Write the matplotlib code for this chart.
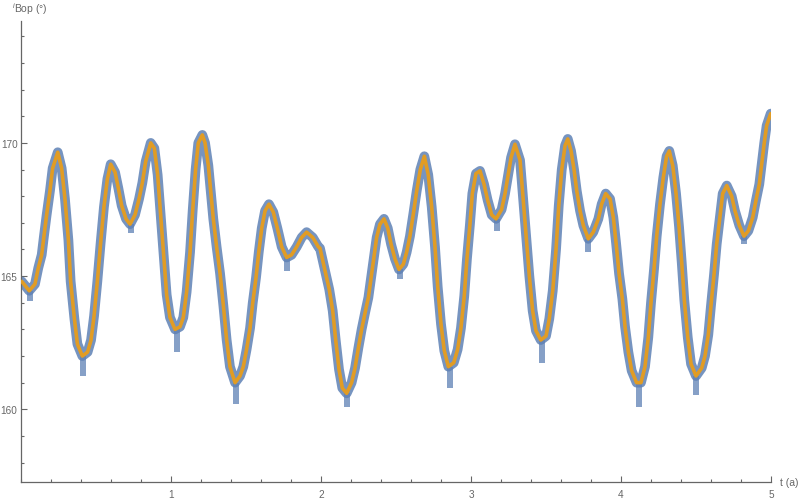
import numpy as np
import matplotlib
matplotlib.use("Agg")
import matplotlib.pyplot as plt
from matplotlib.ticker import MultipleLocator

# inclination of the orbital pole
t_years = [0.005, 0.055, 0.093, 0.115, 0.138, 0.153, 0.171, 0.193, 0.211, 0.245,
           0.271, 0.293, 0.316, 0.331, 0.356, 0.376, 0.409, 0.444, 0.467, 0.487,
           0.509, 0.531, 0.553, 0.576, 0.598, 0.627, 0.649, 0.671, 0.700, 0.727,
           0.760, 0.787, 0.809, 0.831, 0.865, 0.889, 0.911, 0.931, 0.953, 0.971,
           0.993, 1.027, 1.060, 1.082, 1.104, 1.127, 1.145, 1.164, 1.182, 1.209,
           1.227, 1.249, 1.265, 1.282, 1.304, 1.327, 1.349, 1.371, 1.393, 1.427,
           1.460, 1.482, 1.504, 1.527, 1.545, 1.567, 1.585, 1.605, 1.627, 1.653,
           1.682, 1.709, 1.738, 1.771, 1.804, 1.838, 1.871, 1.904, 1.945, 1.982,
           1.993, 2.027, 2.055, 2.078, 2.098, 2.120, 2.142, 2.171, 2.204, 2.227,
           2.249, 2.271, 2.293, 2.316, 2.333, 2.353, 2.371, 2.393, 2.420, 2.445,
           2.467, 2.493, 2.520, 2.549, 2.571, 2.593, 2.616, 2.638, 2.662, 2.689,
           2.715, 2.738, 2.760, 2.778, 2.800, 2.822, 2.849, 2.885, 2.911, 2.933,
           2.955, 2.973, 2.993, 3.009, 3.033, 3.060, 3.087, 3.111, 3.138, 3.167,
           3.204, 3.227, 3.249, 3.267, 3.293, 3.327, 3.345, 3.367, 3.389, 3.411,
           3.433, 3.465, 3.500, 3.522, 3.545, 3.567, 3.585, 3.605, 3.627, 3.645,
           3.667, 3.687, 3.705, 3.727, 3.749, 3.782, 3.815, 3.849, 3.871, 3.898,
           3.927, 3.949, 3.967, 3.987, 4.009, 4.027, 4.049, 4.071, 4.104, 4.133,
           4.160, 4.182, 4.200, 4.220, 4.238, 4.260, 4.282, 4.304, 4.322, 4.345,
           4.367, 4.387, 4.405, 4.422, 4.445, 4.467, 4.500, 4.538, 4.560, 4.582,
           4.600, 4.620, 4.638, 4.660, 4.678, 4.705, 4.738, 4.760, 4.789, 4.820,
           4.849, 4.878, 4.900, 4.922, 4.938, 4.955, 4.971, 4.998]

i_bop = [164.8, 164.45, 164.7, 165.3, 165.8, 166.5, 167.3, 168.2, 169.05, 169.65,
         169.05, 167.9, 166.35, 164.8, 163.4, 162.45, 162.0, 162.15, 162.6, 163.5,
         164.8, 166.25, 167.6, 168.65, 169.2, 168.9, 168.3, 167.65, 167.15, 166.95,
         167.3, 167.9, 168.5, 169.3, 170.0, 169.8, 168.8, 167.3, 165.7, 164.3,
         163.45, 163.0, 163.1, 163.45, 164.4, 165.9, 167.5, 169.0, 170.0, 170.3,
         170.0, 169.15, 168.2, 167.15, 166.1, 165.1, 163.9, 162.6, 161.6, 161.0,
         161.25, 161.6, 162.25, 163.05, 164.0, 164.95, 165.9, 166.8, 167.45, 167.7,
         167.4, 166.8, 166.1, 165.7, 165.8, 166.1, 166.45, 166.65, 166.45, 166.1,
         166.05, 165.2, 164.5, 163.7, 162.6, 161.5, 160.8, 160.6, 161.0, 161.55,
         162.3, 163.0, 163.6, 164.2, 164.9, 165.75, 166.45, 166.95, 167.15, 166.8,
         166.2, 165.65, 165.25, 165.45, 165.9, 166.5, 167.35, 168.2, 169.0, 169.5,
         168.8, 167.6, 166.1, 164.6, 163.2, 162.2, 161.6, 161.75, 162.25, 163.05,
         164.25, 165.65, 166.95, 168.1, 168.85, 168.95, 168.45, 167.85, 167.3, 167.15,
         167.5, 168.1, 168.85, 169.45, 169.95, 169.35, 168.1, 166.6, 165.0, 163.7,
         162.95, 162.6, 162.75, 163.4, 164.45, 166.0, 167.65, 169.0, 169.9, 170.15,
         169.7, 169.0, 168.2, 167.45, 166.9, 166.4, 166.65, 167.15, 167.7, 168.1,
         167.9, 167.2, 166.25, 165.1, 164.15, 163.1, 162.15, 161.45, 161.0, 161.0,
         161.6, 162.7, 164.0, 165.25, 166.5, 167.7, 168.7, 169.5, 169.7, 169.15,
         168.1, 166.85, 165.5, 164.1, 162.7, 161.7, 161.25, 161.55, 162.0, 162.8,
         163.9, 165.05, 166.2, 167.25, 168.1, 168.4, 168.0, 167.45, 166.9, 166.5,
         166.7, 167.2, 167.85, 168.45, 169.2, 170.0, 170.65, 171.1]

# scatter of the raw data below the minima
trough_t = [0.06, 0.41, 0.73, 1.04, 1.43, 1.77, 2.17, 2.53, 2.86, 3.17,
            3.47, 3.78, 4.12, 4.50, 4.82]
trough_top = [164.45, 162.0, 166.95, 163.0, 161.0, 165.7, 160.6, 165.25, 161.6, 167.15,
              162.6, 166.4, 161.0, 161.25, 166.5]
trough_low = [164.05, 161.25, 166.6, 162.15, 160.2, 165.2, 160.07, 164.9, 160.8, 166.7,
              161.75, 165.9, 160.1, 160.55, 166.2]

blue = "#5E81B5"
orange = "#E19C24"
grey = "#666666"

plt.rcParams['font.family'] = ['Liberation Sans', 'DejaVu Sans']
plt.rcParams['mathtext.fontset'] = 'custom'
plt.rcParams['mathtext.it'] = 'Liberation Sans:italic'
plt.rcParams['mathtext.rm'] = 'Liberation Sans'

fig = plt.figure(figsize=(8, 5.02), dpi=100)
ax = fig.add_axes([0.02625, 0.0378, 0.9375, 0.918])

ax.bar(trough_t, np.array(trough_top) - np.array(trough_low), bottom=trough_low,
       width=0.04, color=blue, alpha=0.75, linewidth=0, zorder=2)
ax.plot(t_years, i_bop, color=blue, lw=7, alpha=0.85,
        solid_joinstyle='round', solid_capstyle='round', zorder=2)
ax.plot(t_years, i_bop, color=orange, lw=2.6,
        solid_joinstyle='round', solid_capstyle='round', zorder=3)

ax.set_xlim(0, 5)
ax.set_ylim(157.27, 174.57)

for side in ['top', 'right']:
    ax.spines[side].set_visible(False)
for side in ['left', 'bottom']:
    ax.spines[side].set_color(grey)
    ax.spines[side].set_linewidth(0.9)

ax.xaxis.set_major_locator(MultipleLocator(1))
ax.xaxis.set_minor_locator(MultipleLocator(0.2))
ax.yaxis.set_major_locator(MultipleLocator(5))
ax.yaxis.set_minor_locator(MultipleLocator(1))
ax.set_xticks([1, 2, 3, 4, 5])
ax.tick_params(which='both', direction='in', color=grey, labelcolor=grey,
               labelsize=7.2, width=0.8)
ax.tick_params(which='major', length=4)
ax.tick_params(which='minor', length=2.5)
ax.tick_params(axis='x', which='major', pad=5)
ax.tick_params(axis='y', which='major', pad=2.5)

ax.text(-0.012, 1.019, r"${}^{i}\mathrm{Bop}$ (°)", transform=ax.transAxes,
        color=grey, fontsize=7.5, ha='left', va='baseline')
ax.text(1.012, 0.0, "t (a)", transform=ax.transAxes, color=grey,
        fontsize=7.5, ha='left', va='center')

fig.savefig("out.png", dpi=100)
